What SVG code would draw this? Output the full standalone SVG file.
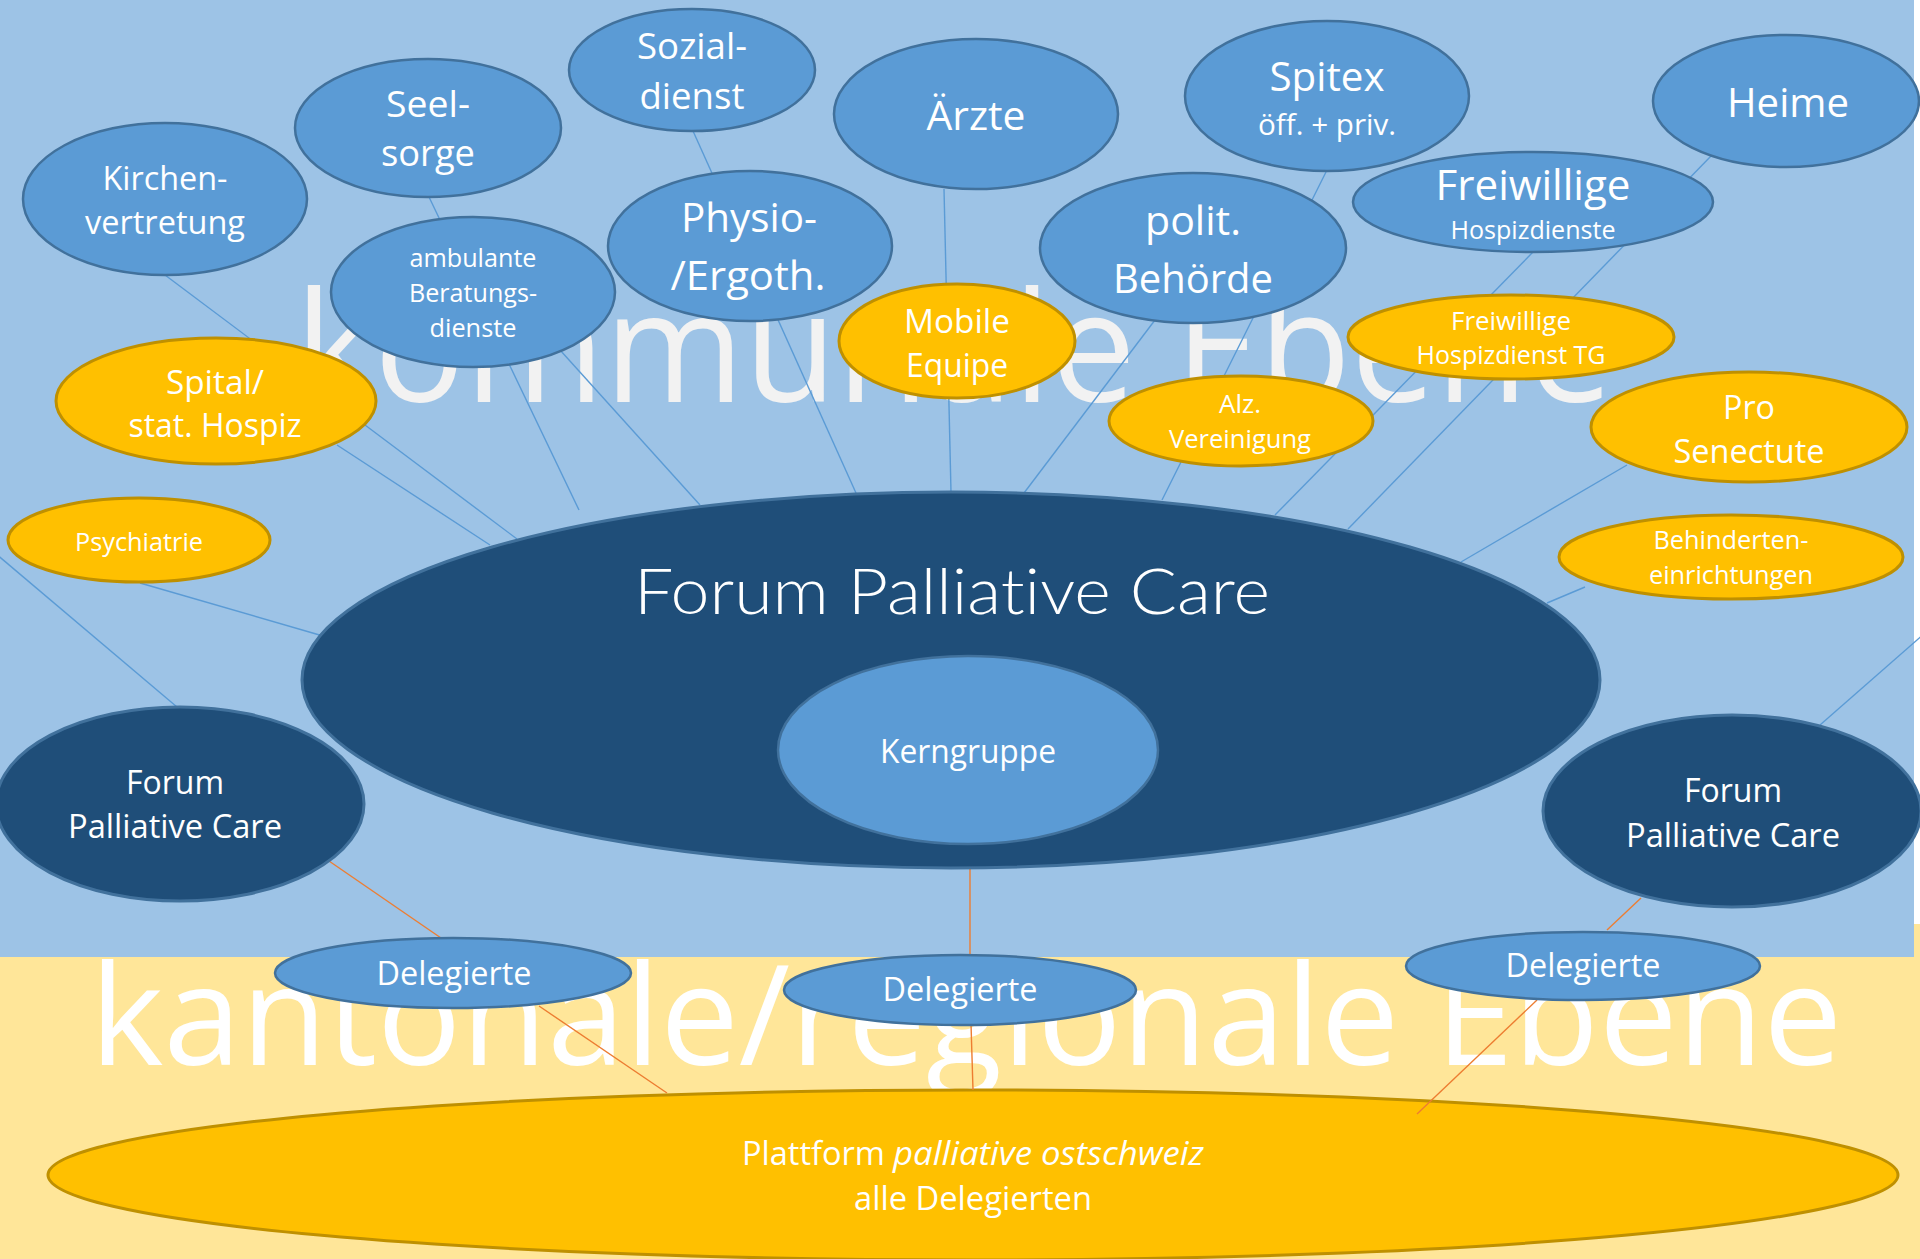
<svg xmlns="http://www.w3.org/2000/svg" width="1920" height="1259" viewBox="0 0 1920 1259">
<style>
.t{font-family:"Open Sans","Noto Sans","DejaVu Sans",sans-serif;fill:#fff;text-anchor:middle}
.wm{font-family:"Open Sans","Noto Sans","DejaVu Sans",sans-serif}
.nb{fill:#5B9BD5;stroke:#41719C;stroke-width:2.5}
.nd{fill:#1F4E79;stroke:#41719C;stroke-width:3}
.ny{fill:#FFC000;stroke:#BF9000;stroke-width:3}
.cb{stroke:#5B9BD5;stroke-width:1.4;fill:none}
.co{stroke:#ED7D31;stroke-width:1.4;fill:none}
.s325{font-size:32.5px}.s37{font-size:37px}.s405{font-size:40.5px}.s255{font-size:25.5px}.s29{font-size:29px}
</style>
<rect x="0" y="0" width="1920" height="1259" fill="#FFFFFF"/>
<rect x="0" y="924" width="1920" height="335" fill="#FFE699"/>
<text class="wm" x="90" y="1065" font-size="140" fill="#FFFFFF" textLength="1752" lengthAdjust="spacingAndGlyphs">kantonale/regionale Ebene</text>
<rect x="0" y="0" width="1914" height="957" fill="#9DC3E6"/>
<text class="wm" x="295" y="402" font-size="153" fill="#F2F2F2" textLength="1318" lengthAdjust="spacingAndGlyphs">kommunale Ebene</text>

<g id="n-plattform">
<ellipse class="ny" cx="973" cy="1175" rx="925" ry="85"/>
<text class="t s325" x="742" y="1165" style="text-anchor:start" textLength="143" lengthAdjust="spacingAndGlyphs">Plattform</text>
<text class="t s325" x="893" y="1165" style="text-anchor:start;font-style:italic" textLength="311" lengthAdjust="spacingAndGlyphs">palliative ostschweiz</text>
<text class="t s325" x="973" y="1210" textLength="238" lengthAdjust="spacingAndGlyphs">alle Delegierten</text>
</g>

<g id="connectors">
<line class="cb" x1="165" y1="275" x2="517" y2="539"/>
<line class="cb" x1="337" y1="445" x2="490" y2="545"/>
<line class="cb" x1="429" y1="197" x2="579" y2="510"/>
<line class="cb" x1="560" y1="350" x2="700" y2="505"/>
<line class="cb" x1="693" y1="131" x2="856" y2="493"/>
<line class="cb" x1="944" y1="189" x2="951" y2="492"/>
<line class="cb" x1="1326" y1="172" x2="1162" y2="500"/>
<line class="cb" x1="1155" y1="320" x2="1024" y2="493"/>
<line class="cb" x1="1533" y1="252" x2="1275" y2="515"/>
<line class="cb" x1="1712" y1="155" x2="1348" y2="529"/>
<line class="cb" x1="1627" y1="465" x2="1461" y2="562"/>
<line class="cb" x1="1585" y1="587" x2="1547" y2="603"/>
<line class="cb" x1="140" y1="583" x2="323" y2="636"/>
<line class="cb" x1="-5" y1="553" x2="177" y2="707"/>
<line class="cb" x1="1925" y1="633" x2="1820" y2="725"/>
<line class="co" x1="329" y1="861" x2="441" y2="938"/>
<line class="co" x1="539" y1="1006" x2="667" y2="1093"/>
<line class="co" x1="970" y1="868" x2="970" y2="956"/>
<line class="co" x1="971" y1="1024" x2="973" y2="1090"/>
<line class="co" x1="1641" y1="898" x2="1607" y2="930"/>
<line class="co" x1="1537" y1="1000" x2="1417" y2="1114"/>
</g>

<g id="n-kirchen">
<ellipse class="nb" cx="165" cy="199" rx="142" ry="76"/>
<text class="t s325" x="165" y="190" textLength="125" lengthAdjust="spacingAndGlyphs">Kirchen-</text>
<text class="t s325" x="165" y="234" textLength="160" lengthAdjust="spacingAndGlyphs">vertretung</text>
</g>
<g id="n-seelsorge">
<ellipse class="nb" cx="428" cy="128" rx="133" ry="69"/>
<text class="t s37" x="428" y="117" textLength="84" lengthAdjust="spacingAndGlyphs">Seel-</text>
<text class="t s37" x="428" y="166" textLength="94" lengthAdjust="spacingAndGlyphs">sorge</text>
</g>
<g id="n-sozialdienst">
<ellipse class="nb" cx="692" cy="70" rx="123" ry="61"/>
<text class="t s37" x="692" y="59" textLength="110" lengthAdjust="spacingAndGlyphs">Sozial-</text>
<text class="t s37" x="692" y="109" textLength="105" lengthAdjust="spacingAndGlyphs">dienst</text>
</g>
<g id="n-aerzte">
<ellipse class="nb" cx="976" cy="114" rx="142" ry="75"/>
<text class="t s405" x="976" y="130" textLength="99" lengthAdjust="spacingAndGlyphs">Ärzte</text>
</g>
<g id="n-spitex">
<ellipse class="nb" cx="1327" cy="96" rx="142" ry="75"/>
<text class="t s405" x="1327" y="91" textLength="115" lengthAdjust="spacingAndGlyphs">Spitex</text>
<text class="t s29" x="1327" y="135" textLength="138" lengthAdjust="spacingAndGlyphs">öff. + priv.</text>
</g>
<g id="n-heime">
<ellipse class="nb" cx="1786" cy="101" rx="133" ry="66"/>
<text class="t s405" x="1788" y="117" textLength="122" lengthAdjust="spacingAndGlyphs">Heime</text>
</g>
<g id="n-ambulante">
<ellipse class="nb" cx="473" cy="292" rx="142" ry="75"/>
<text class="t s255" x="473" y="267" textLength="127" lengthAdjust="spacingAndGlyphs">ambulante</text>
<text class="t s255" x="473" y="302" textLength="128" lengthAdjust="spacingAndGlyphs">Beratungs-</text>
<text class="t s255" x="473" y="337" textLength="87" lengthAdjust="spacingAndGlyphs">dienste</text>
</g>
<g id="n-physio">
<ellipse class="nb" cx="750" cy="246" rx="142" ry="75"/>
<text class="t s405" x="749" y="232" textLength="136" lengthAdjust="spacingAndGlyphs">Physio-</text>
<text class="t s405" x="748" y="290" textLength="155" lengthAdjust="spacingAndGlyphs">/Ergoth.</text>
</g>
<g id="n-polit">
<ellipse class="nb" cx="1193" cy="248" rx="153" ry="75"/>
<text class="t s405" x="1193" y="235" textLength="96" lengthAdjust="spacingAndGlyphs">polit.</text>
<text class="t s405" x="1193" y="293" textLength="160" lengthAdjust="spacingAndGlyphs">Behörde</text>
</g>
<g id="n-freiwillige-hd">
<ellipse class="nb" cx="1533" cy="202" rx="180" ry="50"/>
<text class="t" x="1533" y="200" font-size="41.5" textLength="195" lengthAdjust="spacingAndGlyphs">Freiwillige</text>
<text class="t s255" x="1533" y="239" textLength="165" lengthAdjust="spacingAndGlyphs">Hospizdienste</text>
</g>
<g id="n-mobile">
<ellipse class="ny" cx="957" cy="341" rx="118" ry="57"/>
<text class="t s325" x="957" y="333" textLength="106" lengthAdjust="spacingAndGlyphs">Mobile</text>
<text class="t s325" x="957" y="377" textLength="102" lengthAdjust="spacingAndGlyphs">Equipe</text>
</g>
<g id="n-spital">
<ellipse class="ny" cx="216" cy="401" rx="160" ry="63"/>
<text class="t s325" x="215" y="394" textLength="98" lengthAdjust="spacingAndGlyphs">Spital/</text>
<text class="t s325" x="215" y="437" textLength="173" lengthAdjust="spacingAndGlyphs">stat. Hospiz</text>
</g>
<g id="n-psychiatrie">
<ellipse class="ny" cx="139" cy="540" rx="131" ry="42"/>
<text class="t s255" x="139" y="551" textLength="128" lengthAdjust="spacingAndGlyphs">Psychiatrie</text>
</g>
<g id="n-alz">
<ellipse class="ny" cx="1241" cy="421" rx="132" ry="45"/>
<text class="t s255" x="1240" y="413" textLength="42" lengthAdjust="spacingAndGlyphs">Alz.</text>
<text class="t s255" x="1240" y="448" textLength="142" lengthAdjust="spacingAndGlyphs">Vereinigung</text>
</g>
<g id="n-freiwillige-tg">
<ellipse class="ny" cx="1511" cy="337" rx="163" ry="42"/>
<text class="t s255" x="1511" y="330" textLength="120" lengthAdjust="spacingAndGlyphs">Freiwillige</text>
<text class="t s255" x="1511" y="364" textLength="189" lengthAdjust="spacingAndGlyphs">Hospizdienst TG</text>
</g>
<g id="n-prosenectute">
<ellipse class="ny" cx="1749" cy="427" rx="158" ry="55"/>
<text class="t s325" x="1749" y="419" textLength="52" lengthAdjust="spacingAndGlyphs">Pro</text>
<text class="t s325" x="1749" y="463" textLength="151" lengthAdjust="spacingAndGlyphs">Senectute</text>
</g>
<g id="n-behinderten">
<ellipse class="ny" cx="1731" cy="557" rx="172" ry="42"/>
<text class="t s255" x="1731" y="549" textLength="155" lengthAdjust="spacingAndGlyphs">Behinderten-</text>
<text class="t s255" x="1731" y="584" textLength="164" lengthAdjust="spacingAndGlyphs">einrichtungen</text>
</g>
<g id="n-forum">
<ellipse class="nd" cx="951" cy="680" rx="649" ry="188"/>
<text x="952" y="614" style="font-family:Lato,'Open Sans',sans-serif;font-weight:300;fill:#fff;text-anchor:middle;font-variant-ligatures:none" font-size="62.5" textLength="636" lengthAdjust="spacingAndGlyphs">Forum Palliative Care</text>
</g>
<g id="n-kerngruppe">
<ellipse class="nb" cx="968" cy="750" rx="190" ry="94"/>
<text class="t s325" x="968" y="763" textLength="176" lengthAdjust="spacingAndGlyphs">Kerngruppe</text>
</g>
<g id="n-forum-left">
<ellipse class="nd" cx="180" cy="804" rx="184" ry="97"/>
<text class="t s325" x="175" y="794" textLength="98" lengthAdjust="spacingAndGlyphs">Forum</text>
<text class="t s325" x="175" y="838" textLength="214" lengthAdjust="spacingAndGlyphs">Palliative Care</text>
</g>
<g id="n-forum-right">
<ellipse class="nd" cx="1732" cy="811" rx="189" ry="96"/>
<text class="t s325" x="1733" y="802" textLength="98" lengthAdjust="spacingAndGlyphs">Forum</text>
<text class="t s325" x="1733" y="847" textLength="214" lengthAdjust="spacingAndGlyphs">Palliative Care</text>
</g>
<g id="n-delegierte-left">
<ellipse class="nb" cx="453" cy="973" rx="178" ry="35"/>
<text class="t s325" x="454" y="985" textLength="155" lengthAdjust="spacingAndGlyphs">Delegierte</text>
</g>
<g id="n-delegierte-mid">
<ellipse class="nb" cx="960" cy="990" rx="176" ry="35"/>
<text class="t s325" x="960" y="1001" textLength="155" lengthAdjust="spacingAndGlyphs">Delegierte</text>
</g>
<g id="n-delegierte-right">
<ellipse class="nb" cx="1583" cy="966" rx="177" ry="34"/>
<text class="t s325" x="1583" y="977" textLength="155" lengthAdjust="spacingAndGlyphs">Delegierte</text>
</g>
</svg>
